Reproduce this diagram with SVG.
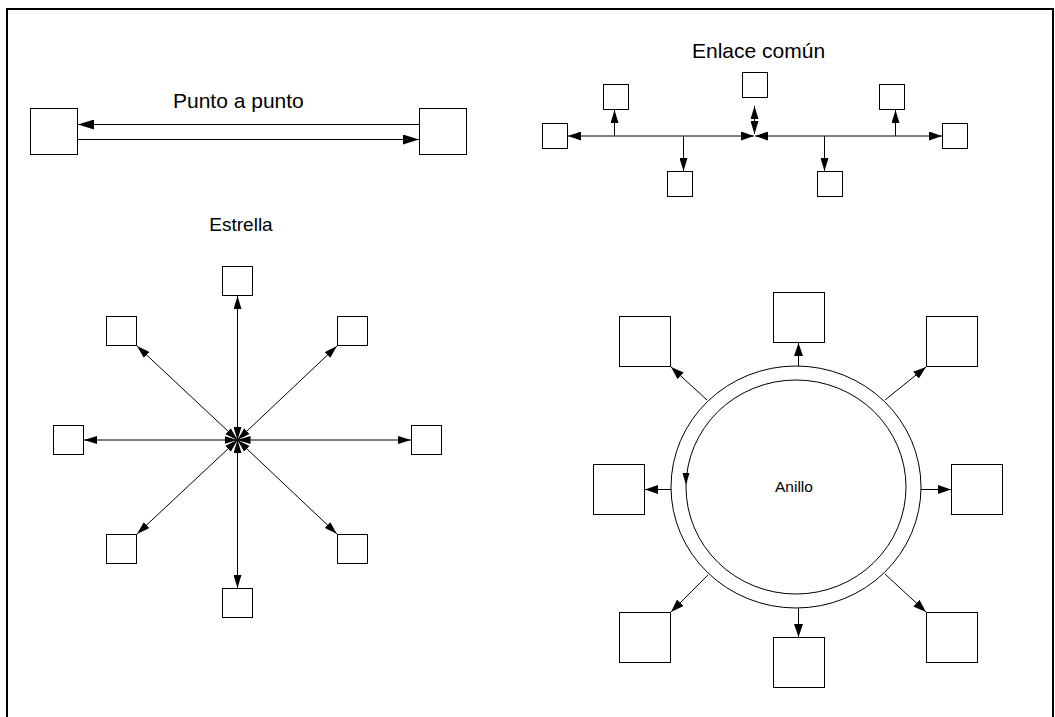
<svg xmlns="http://www.w3.org/2000/svg" width="1055" height="717" viewBox="0 0 1055 717">
<defs>
<style>
.box{fill:#fff;stroke:#000;stroke-width:1}
.ln{fill:none;stroke:#000;stroke-width:1}
.ring{fill:none;stroke:#000;stroke-width:1}
.t{font-family:"Liberation Sans",Arial,sans-serif;fill:#000}
</style>
<marker id="aBig" markerUnits="userSpaceOnUse" markerWidth="16" markerHeight="10" refX="16" refY="5" orient="auto-start-reverse" viewBox="0 0 16 10">
<path d="M0,0 L16,5 L0,10 z" fill="#000"/>
</marker>
<marker id="a" markerUnits="userSpaceOnUse" markerWidth="13" markerHeight="9" refX="13" refY="4.5" orient="auto-start-reverse" viewBox="0 0 13 9">
<path d="M0,0 L13,4.5 L0,9 z" fill="#000"/>
</marker>
<marker id="aS" markerUnits="userSpaceOnUse" markerWidth="13" markerHeight="8" refX="13" refY="4" orient="auto-start-reverse" viewBox="0 0 13 8">
<path d="M0,0 L13,4 L0,8 z" fill="#000"/>
</marker>
</defs>
<rect x="0" y="0" width="1055" height="717" fill="#fff"/>
<rect x="7" y="9" width="1046" height="730" fill="none" stroke="#000" stroke-width="2"/>

<!-- Texts -->
<text class="t" x="173" y="108" font-size="21">Punto a punto</text>
<text class="t" x="692" y="58" font-size="21">Enlace común</text>
<text class="t" x="241" y="231" font-size="19" text-anchor="middle">Estrella</text>
<text class="t" x="775" y="492" font-size="15.5">Anillo</text>

<!-- Point to point nodes -->
<g id="p2p-left"><rect class="box" x="30.5" y="108.5" width="47" height="46"/></g>
<g id="p2p-right"><rect class="box" x="419.5" y="108.5" width="47" height="46"/></g>

<!-- Bus nodes -->
<g id="bus-top-center"><rect class="box" x="742.5" y="72.5" width="25" height="25"/></g>
<g id="bus-top-left"><rect class="box" x="603.5" y="84.5" width="25" height="25"/></g>
<g id="bus-top-right"><rect class="box" x="879.5" y="84.5" width="25" height="25"/></g>
<g id="bus-left"><rect class="box" x="542.5" y="123.5" width="25" height="25"/></g>
<g id="bus-right"><rect class="box" x="942.5" y="123.5" width="25" height="25"/></g>
<g id="bus-bottom-left"><rect class="box" x="667.5" y="171.5" width="25" height="25"/></g>
<g id="bus-bottom-right"><rect class="box" x="817.5" y="171.5" width="25" height="25"/></g>

<!-- Star nodes -->
<g id="star-top"><rect class="box" x="222.5" y="266.5" width="30" height="29"/></g>
<g id="star-bottom"><rect class="box" x="222.5" y="588.5" width="30" height="29"/></g>
<g id="star-left"><rect class="box" x="53.5" y="425.5" width="30" height="29"/></g>
<g id="star-right"><rect class="box" x="411.5" y="425.5" width="30" height="29"/></g>
<g id="star-top-left"><rect class="box" x="106.5" y="316.5" width="30" height="29"/></g>
<g id="star-top-right"><rect class="box" x="337.5" y="316.5" width="30" height="29"/></g>
<g id="star-bottom-left"><rect class="box" x="106.5" y="534.5" width="30" height="29"/></g>
<g id="star-bottom-right"><rect class="box" x="337.5" y="534.5" width="30" height="29"/></g>

<!-- Ring -->
<g id="ring">
<ellipse class="ring" cx="796" cy="487" rx="125" ry="121"/>
<ellipse class="ring" cx="796" cy="487" rx="110" ry="107"/>
<polygon points="686,485 682.5,473 689.5,473" fill="#000"/>
</g>
<g id="ring-top"><rect class="box" x="773.5" y="292.5" width="51" height="50"/></g>
<g id="ring-top-left"><rect class="box" x="619.5" y="316.5" width="51" height="50"/></g>
<g id="ring-top-right"><rect class="box" x="926.5" y="316.5" width="51" height="50"/></g>
<g id="ring-left"><rect class="box" x="593.5" y="464.5" width="51" height="50"/></g>
<g id="ring-right"><rect class="box" x="951.5" y="464.5" width="51" height="50"/></g>
<g id="ring-bottom-left"><rect class="box" x="619.5" y="612.5" width="51" height="50"/></g>
<g id="ring-bottom-right"><rect class="box" x="926.5" y="612.5" width="51" height="50"/></g>
<g id="ring-bottom"><rect class="box" x="773.5" y="637.5" width="51" height="50"/></g>

<!-- Connectors -->
<g id="connectors">
<!-- point to point -->
<line class="ln" x1="419" y1="124.5" x2="78" y2="124.5" marker-end="url(#aBig)"/>
<line class="ln" x1="78" y1="139.5" x2="419" y2="139.5" marker-end="url(#aBig)"/>
<!-- bus -->
<line class="ln" x1="754" y1="136" x2="568" y2="136" marker-start="url(#a)" marker-end="url(#a)"/>
<line class="ln" x1="755" y1="136" x2="942" y2="136" marker-start="url(#a)" marker-end="url(#a)"/>
<line class="ln" x1="754.5" y1="106" x2="754.5" y2="134" marker-start="url(#aS)" marker-end="url(#aS)"/>
<line class="ln" x1="614.5" y1="136" x2="614.5" y2="110" marker-end="url(#aS)"/>
<line class="ln" x1="683.5" y1="136" x2="683.5" y2="171" marker-end="url(#aS)"/>
<line class="ln" x1="895.5" y1="136" x2="895.5" y2="110" marker-end="url(#aS)"/>
<line class="ln" x1="824.5" y1="136" x2="824.5" y2="171" marker-end="url(#aS)"/>
<!-- star -->
<line class="ln" x1="237.5" y1="440" x2="237.5" y2="296" marker-start="url(#aS)" marker-end="url(#aS)"/>
<line class="ln" x1="237.5" y1="440" x2="237.5" y2="588" marker-start="url(#aS)" marker-end="url(#aS)"/>
<line class="ln" x1="237.5" y1="440" x2="84" y2="440" marker-start="url(#aS)" marker-end="url(#aS)"/>
<line class="ln" x1="237.5" y1="440" x2="411" y2="440" marker-start="url(#aS)" marker-end="url(#aS)"/>
<line class="ln" x1="237.5" y1="440" x2="137" y2="346" marker-start="url(#aS)" marker-end="url(#aS)"/>
<line class="ln" x1="237.5" y1="440" x2="337" y2="346" marker-start="url(#aS)" marker-end="url(#aS)"/>
<line class="ln" x1="237.5" y1="440" x2="137" y2="534" marker-start="url(#aS)" marker-end="url(#aS)"/>
<line class="ln" x1="237.5" y1="440" x2="337" y2="534" marker-start="url(#aS)" marker-end="url(#aS)"/>
<!-- ring -->
<line class="ln" x1="798.5" y1="366" x2="798.5" y2="343" marker-end="url(#a)"/>
<line class="ln" x1="798.5" y1="608" x2="798.5" y2="637" marker-end="url(#a)"/>
<line class="ln" x1="671" y1="489.5" x2="645" y2="489.5" marker-end="url(#a)"/>
<line class="ln" x1="921" y1="489.5" x2="951" y2="489.5" marker-end="url(#a)"/>
<line class="ln" x1="707" y1="400" x2="671" y2="367" marker-end="url(#a)"/>
<line class="ln" x1="885" y1="400" x2="926" y2="367" marker-end="url(#a)"/>
<line class="ln" x1="708" y1="575" x2="671" y2="612" marker-end="url(#a)"/>
<line class="ln" x1="885" y1="574" x2="926" y2="612" marker-end="url(#a)"/>
</g>
</svg>
